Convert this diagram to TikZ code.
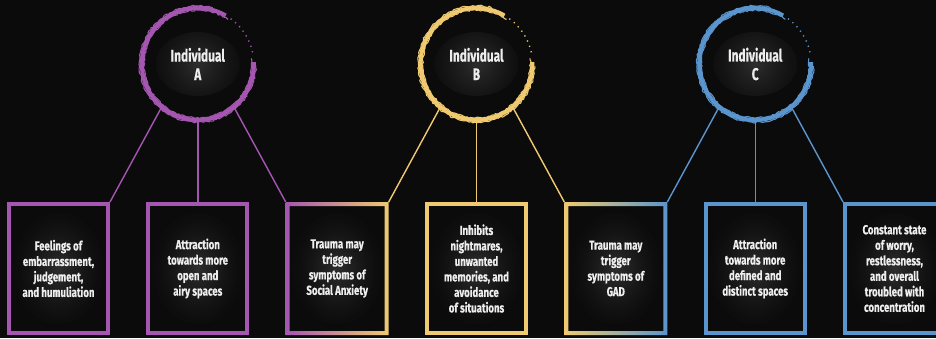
\documentclass[tikz,border=0pt]{standalone}
\usepackage{fontspec}
\setsansfont{Fira Sans}[FakeStretch=0.74, FakeBold=0.4]
\newfontfamily\headfont{Fira Sans}[FakeStretch=0.70, FakeBold=0.4]
\usetikzlibrary{decorations.pathmorphing}

\definecolor{bg}{HTML}{0B0B0B}
\definecolor{plum}{HTML}{A456B1}
\definecolor{sand}{HTML}{EFCA70}
\definecolor{sky}{HTML}{5A95CE}
\definecolor{ink}{HTML}{EEEEEE}

% soft light behind the words
\pgfdeclareradialshading{halo}{\pgfpoint{0bp}{0bp}}{%
  color(0bp)=(ink!15!bg); color(7bp)=(ink!9!bg); color(14bp)=(ink!4!bg);
  color(20bp)=(ink!1!bg); color(25bp)=(bg); color(50bp)=(bg)}

\tikzset{
  glow/.style={path picture={\shade[shading=halo]
      (path picture bounding box.center) ellipse (#1);}},
  indiv/.style={circle, minimum size=112pt, inner sep=0pt, align=center, text=ink,
      font=\headfont\bfseries\fontsize{17}{18.5}\selectfont, glow={42pt and 32pt}},
  infobox/.style={draw=#1, line width=4pt, minimum width=99pt, minimum height=129pt,
      inner sep=0pt, align=center, text=ink,
      font=\sffamily\bfseries\fontsize{13}{15.5}\selectfont, glow={46pt and 56pt}},
  link/.style={#1, line width=1.4pt},
  rough/.style={decorate, decoration={random steps, segment length=2pt, amplitude=0.8pt}}
}

% brush ring round a named node: #1 node, #2 colour
\newcommand\brushring[2]{%
  \draw[#2, line width=4pt] (#1.center) ++(60:56pt) arc[start angle=60, end angle=362, radius=56pt];
  \draw[#2, line width=1.1pt, rough] (#1.center) ++(75:58.3pt) arc[start angle=75, end angle=358, radius=58.3pt];
  \draw[#2, line width=1.1pt, rough] (#1.center) ++(56:53.8pt) arc[start angle=56, end angle=366, radius=53.8pt];
  \draw[#2, line width=1.4pt, dash pattern=on 1.2pt off 4.5pt] (#1.center) ++(12:56pt) arc[start angle=12, end angle=56, radius=56pt];
}

\begin{document}
\begin{tikzpicture}[x=1pt, y=1pt]
    \pgfmathsetseed{7}
    % background
    \useasboundingbox (0,0) rectangle (936,338);
    \clip (0,0) rectangle (936,338);
    \fill[bg] (0,0) rectangle (936,338);

    % individuals
    \node[indiv] (indA) at (197.8,274) {Individual\\A};
    \node[indiv] (indB) at (476.5,274) {Individual\\B};
    \node[indiv] (indC) at (755.2,274) {Individual\\C};
    \brushring{indA}{plum}
    \brushring{indB}{sand}
    \brushring{indC}{sky}

    % boxes
    \node[infobox=plum] (b1) at (58.5,69.5) {Feelings of\\embarrassment,\\judgement,\\and humuliation};
    \node[infobox=plum] (b2) at (197.8,69.5) {Attraction\\towards more\\open and\\airy spaces};
    \node[infobox=none] (b3) at (337.2,69.5) {Trauma may\\trigger\\symptoms of\\Social Anxiety};
    \node[infobox=sand] (b4) at (476.5,69.5) {Inhibits\\nightmares,\\unwanted\\memories, and\\avoidance\\of situations};
    \node[infobox=none] (b5) at (615.8,69.5) {Trauma may\\trigger\\symptoms of\\GAD};
    \node[infobox=sky] (b6) at (755.2,69.5) {Attraction\\towards more\\defined and\\distinct spaces};
    \node[infobox=sky] (b7) at (894.5,69.5) {Constant state\\of worry,\\restlessness,\\and overall\\troubled with\\concentration};

    % shared boxes get a blended frame
    \shade[left color=plum, right color=sand, even odd rule]
        (b3.north west) rectangle (b3.south east)
        ([shift={(4pt,-4pt)}]b3.north west) rectangle ([shift={(-4pt,4pt)}]b3.south east);
    \shade[left color=sand, right color=sky, even odd rule]
        (b5.north west) rectangle (b5.south east)
        ([shift={(4pt,-4pt)}]b5.north west) rectangle ([shift={(-4pt,4pt)}]b5.south east);

    % links
    \draw[link=plum] (indA.230) -- (b1.north east);
    \draw[link=plum] (indA.south) -- (b2.north);
    \draw[link=plum] (indA.310) -- (b3.north west);
    \draw[link=sand] (indB.230) -- (b3.north east);
    \draw[link=sand] (indB.south) -- (b4.north);
    \draw[link=sand] (indB.310) -- (b5.north west);
    \draw[link=sky] (indC.230) -- (b5.north east);
    \draw[link=sky] (indC.south) -- (b6.north);
    \draw[link=sky] (indC.310) -- (b7.north west);
\end{tikzpicture}
\end{document}
